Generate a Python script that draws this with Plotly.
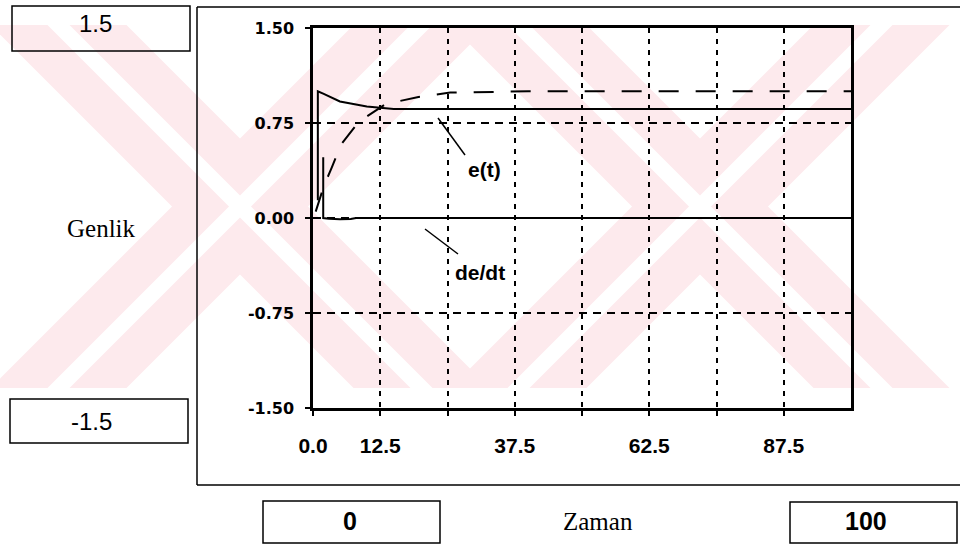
import plotly.graph_objects as go

# ---------------- data ----------------
t_out = [0.5, 2.0, 3.5, 5.2, 8.5, 13.5, 19.6, 25.5, 40.0, 60.0, 80.0, 100.0]
y_out = [0.05, 0.25, 0.40, 0.58, 0.76, 0.90, 0.955, 0.99, 1.0, 1.0, 1.0, 1.0]

t_e = [0.9, 0.9, 2.0, 3.5, 5.0, 7.5, 10.0, 12.5, 15.0, 20.0, 40.0, 70.0, 100.0]
e_val = [0.14, 1.0, 0.98, 0.95, 0.92, 0.90, 0.88, 0.87, 0.86, 0.86, 0.86, 0.86, 0.86]

t_de = [1.9, 1.9, 3.0, 5.0, 7.0, 8.0, 100.0]
de_val = [0.48, 0.0, -0.005, -0.01, -0.008, 0.0, 0.0]

x_tickvals = [0, 12.5, 25, 37.5, 50, 62.5, 75, 87.5]
x_ticktext = ["0.0", "12.5", "", "37.5", "", "62.5", "", "87.5"]
y_tickvals = [-1.5, -0.75, 0, 0.75, 1.5]
y_ticktext = ["-1.50", "-0.75", "0.00", "0.75", "1.50"]

# ---------------- geometry helpers (pixel -> paper) ----------------
W, H = 960, 545
L, R, T, B = 313, 851, 28, 408


def px(x):
    return (x - L) / (R - L)


def py(y):
    return (B - y) / (B - T)


def poly(pts):
    return "M " + " L ".join(f"{px(x):.5f},{py(y):.5f}" for x, y in pts) + " Z"


fig = go.Figure()

fig.add_trace(go.Scatter(x=t_out, y=y_out, mode="lines", name="y(t)",
                         line=dict(color="black", width=2, dash="20px,17px")))
fig.add_trace(go.Scatter(x=t_e, y=e_val, mode="lines", name="e(t)",
                         line=dict(color="black", width=2)))
fig.add_trace(go.Scatter(x=t_de, y=de_val, mode="lines", name="de/dt",
                         line=dict(color="black", width=2)))

shapes = []
# watermark (pale pink X shapes with a white inner stripe)
pink = "rgb(253,234,237)"
wy0, wy1 = 25, 388


def band(cx, half, sign, color):
    d = (wy1 - wy0) / 2
    xt = cx - sign * d
    xb = cx + sign * d
    shapes.append(dict(type="path", xref="paper", yref="paper", layer="below",
                       path=poly([(xt - half, wy0), (xt + half, wy0),
                                  (xb + half, wy1), (xb - half, wy1)]),
                       fillcolor=color, line=dict(width=0)))


for cx in [240, 700]:
    band(cx, 68, 1, pink)
    band(cx, 68, -1, pink)
for cx in [240, 700]:
    band(cx, 11, 1, "white")
    band(cx, 11, -1, "white")


def line_px(x0, y0, x1, y1, w=1.5):
    shapes.append(dict(type="line", xref="paper", yref="paper",
                       x0=px(x0), y0=py(y0), x1=px(x1), y1=py(y1),
                       line=dict(color="black", width=w)))


def rect_px(x0, y0, x1, y1, w=1.5):
    shapes.append(dict(type="rect", xref="paper", yref="paper",
                       x0=px(x0), y0=py(y0), x1=px(x1), y1=py(y1),
                       line=dict(color="black", width=w), fillcolor="rgba(0,0,0,0)"))


# outer frame
line_px(197, 7, 197, 485)
line_px(197, 7, 962, 7)
line_px(197, 485, 962, 485)
# value boxes
rect_px(12, 6, 190, 51)
rect_px(10, 399, 188, 443)
rect_px(263, 501, 440, 543)
rect_px(790, 502, 957, 543)
# leader lines
line_px(438, 118, 465, 155)
line_px(425, 229, 458, 254)

annotations = []


def text_px(x, y, s, size, family, bold=False):
    annotations.append(dict(xref="paper", yref="paper", x=px(x), y=py(y),
                            text=s, showarrow=False, xanchor="center", yanchor="middle",
                            font=dict(size=size, family=family, color="black",
                                      weight="bold" if bold else "normal")))


sans = "Liberation Sans, Arial, sans-serif"
serif = "Liberation Serif, Times New Roman, serif"
dj = "DejaVu Sans, Liberation Sans, sans-serif"
text_px(95, 23, "1.5", 24, sans)
text_px(91, 421, "-1.5", 24, sans)
text_px(350, 521, "0", 25, sans, bold=True)
text_px(866, 521, "100", 25, sans, bold=True)
text_px(101, 228, "Genlik", 25, serif)
text_px(598, 521, "Zaman", 25, serif)
text_px(484, 169, "e(t)", 21, sans, bold=True)
text_px(480, 272, "de/dt", 21, sans, bold=True)

fig.update_layout(
    width=W, height=H,
    margin=dict(l=L, r=W - R, t=T, b=H - B),
    paper_bgcolor="white", plot_bgcolor="rgba(0,0,0,0)",
    showlegend=False,
    shapes=shapes, annotations=annotations,
)
fig.update_xaxes(range=[0, 100], tickvals=x_tickvals, ticktext=x_ticktext,
                 showgrid=True, gridcolor="black", gridwidth=1.5, griddash="5px,6px",
                 showline=True, linecolor="black", linewidth=2.5, mirror=True,
                 ticks="outside", ticklen=5, tickwidth=1.5, tickcolor="black",
                 ticklabelstandoff=12, zeroline=False,
                 tickfont=dict(family=sans, size=21, color="black", weight="bold"))
fig.update_yaxes(range=[-1.5, 1.5], tickvals=y_tickvals, ticktext=y_ticktext,
                 showgrid=True, gridcolor="black", gridwidth=1.5, griddash="8px,6px",
                 showline=True, linecolor="black", linewidth=2.5, mirror=True,
                 ticks="outside", ticklen=5, tickwidth=1.5, tickcolor="black",
                 ticklabelstandoff=8, zeroline=False,
                 tickfont=dict(family=dj, size=16, color="black", weight="bold"))

fig.write_html("out.html")
